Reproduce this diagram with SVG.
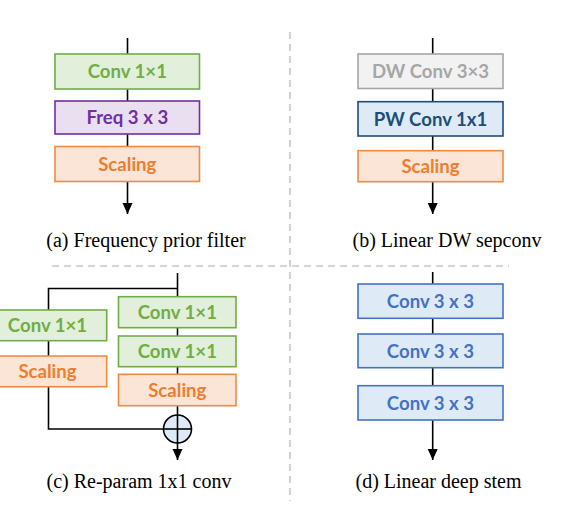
<svg xmlns="http://www.w3.org/2000/svg" width="570" height="526" viewBox="0 0 570 526">
<style>
.bx{stroke-width:1.6}
.lbl{font-family:Lato,"Open Sans",sans-serif;font-weight:bold;font-size:18.6px;text-anchor:middle}
.cap{font-family:"Liberation Serif",serif;font-size:20px;text-anchor:middle;fill:#000}
.green rect{fill:#e2efda;stroke:#70ad47}
.green text{fill:#70ad47}
.purple rect{fill:#e9dff1;stroke:#7030a0}
.purple text{fill:#7030a0}
.orange rect{fill:#fbe5d6;stroke:#f08a42}
.orange text{fill:#ed7d31}
.gray rect{fill:#f2f2f2;stroke:#a6a6a6}
.gray text{fill:#a6a6a6}
.dblue rect{fill:#deebf7;stroke:#1f4e79}
.dblue text{fill:#1f4e79}
.blue rect{fill:#deebf7;stroke:#4472c4}
.blue text{fill:#4472c4}
.ln{stroke:#000;stroke-width:1.6;fill:none}
.sep{stroke:#c8c8c8;stroke-width:1.6;stroke-dasharray:7 5;fill:none}
</style>
<defs>
<marker id="arr" markerUnits="userSpaceOnUse" markerWidth="12" markerHeight="12" viewBox="0 0 12 12" refX="11" refY="6" orient="auto">
<path d="M0,1 L11,6 L0,11 Z" fill="#000"/>
</marker>
</defs>
<rect width="570" height="526" fill="#fff"/>
<g id="separators">
<line class="sep" x1="290" y1="32" x2="290" y2="501"/>
<line class="sep" x1="52" y1="266" x2="509" y2="266"/>
</g>
<g id="connectors">
<line class="ln" x1="127.5" y1="38" x2="127.5" y2="214" marker-end="url(#arr)"/>
<line class="ln" x1="432.7" y1="38" x2="432.7" y2="214" marker-end="url(#arr)"/>
<line class="ln" x1="432.7" y1="272" x2="432.7" y2="460" marker-end="url(#arr)"/>
<line class="ln" x1="177.5" y1="273" x2="177.5" y2="415"/>
<polyline class="ln" points="177.5,288.5 48.5,288.5 48.5,429 163.5,429"/>
<line class="ln" x1="177.5" y1="443" x2="177.5" y2="460" marker-end="url(#arr)"/>
</g>
<g id="a-conv" class="green"><rect class="bx" x="55" y="54" width="144.5" height="35"/><text class="lbl" x="127.3" y="78">Conv 1×1</text></g>
<g id="a-freq" class="purple"><rect class="bx" x="55" y="101" width="144.5" height="33"/><text class="lbl" x="127.3" y="124">Freq 3 x 3</text></g>
<g id="a-scaling" class="orange"><rect class="bx" x="55" y="146.5" width="144.5" height="35"/><text class="lbl" x="127.3" y="170.5">Scaling</text></g>
<text class="cap" x="146" y="247">(a) Frequency prior filter</text>
<g id="b-dw" class="gray"><rect class="bx" x="358" y="54" width="145" height="34.5"/><text class="lbl" x="430.5" y="78">DW Conv 3×3</text></g>
<g id="b-pw" class="dblue"><rect class="bx" x="358" y="101.7" width="145" height="34.3"/><text class="lbl" x="430.5" y="125.5">PW Conv 1x1</text></g>
<g id="b-scaling" class="orange"><rect class="bx" x="358" y="150.7" width="145" height="31"/><text class="lbl" x="430.5" y="173">Scaling</text></g>
<text class="cap" x="447" y="247">(b) Linear DW sepconv</text>
<g id="c-left-conv" class="green"><rect class="bx" x="-12" y="310" width="118.7" height="30.7"/><text class="lbl" x="47.5" y="332">Conv 1×1</text></g>
<g id="c-left-scaling" class="orange"><rect class="bx" x="-12" y="356" width="118.7" height="30.7"/><text class="lbl" x="47.5" y="378">Scaling</text></g>
<g id="c-conv1" class="green"><rect class="bx" x="118.5" y="296.7" width="117.5" height="31"/><text class="lbl" x="177.3" y="319">Conv 1×1</text></g>
<g id="c-conv2" class="green"><rect class="bx" x="118.5" y="336" width="117.5" height="30.7"/><text class="lbl" x="177.3" y="358">Conv 1×1</text></g>
<g id="c-scaling" class="orange"><rect class="bx" x="118.5" y="374.3" width="117.5" height="31.4"/><text class="lbl" x="177.3" y="396.5">Scaling</text></g>
<g id="c-add">
<circle cx="177.5" cy="429" r="14" fill="#deebf7" stroke="#000" stroke-width="1.6"/>
<line class="ln" x1="163.5" y1="429" x2="191.5" y2="429"/>
<line class="ln" x1="177.5" y1="415" x2="177.5" y2="443"/>
</g>
<text class="cap" x="139" y="488">(c) Re-param 1x1 conv</text>
<g id="d-conv1" class="blue"><rect class="bx" x="358" y="284" width="145" height="34.3"/><text class="lbl" x="430.5" y="308">Conv 3 x 3</text></g>
<g id="d-conv2" class="blue"><rect class="bx" x="358" y="334" width="145" height="33.7"/><text class="lbl" x="430.5" y="357.5">Conv 3 x 3</text></g>
<g id="d-conv3" class="blue"><rect class="bx" x="358" y="385.7" width="145" height="34.3"/><text class="lbl" x="430.5" y="409.5">Conv 3 x 3</text></g>
<text class="cap" x="438.5" y="488">(d) Linear deep stem</text>
</svg>
